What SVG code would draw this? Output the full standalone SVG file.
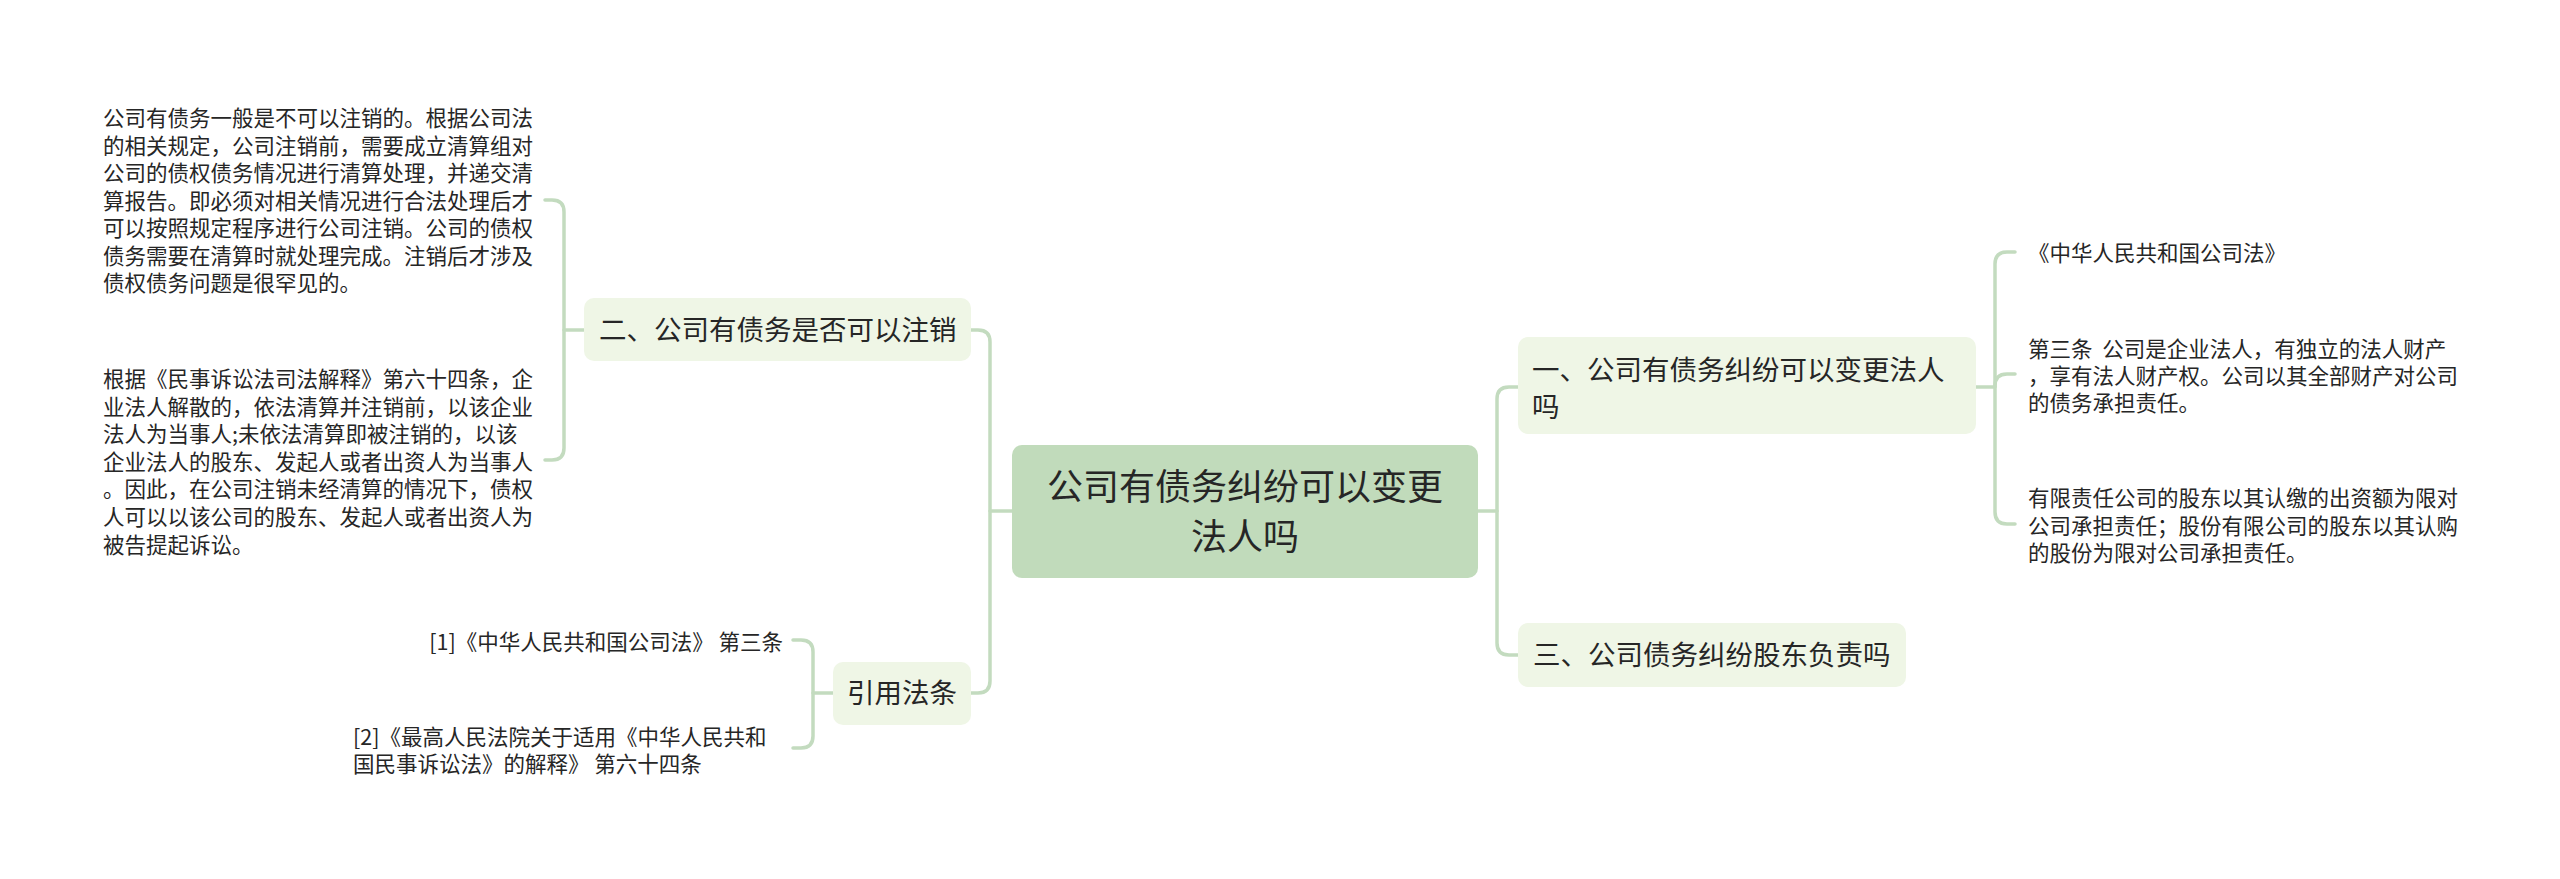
<svg xmlns="http://www.w3.org/2000/svg" width="2560" height="879" viewBox="0 0 2560 879">
<style>
text{font-family:"Noto Sans CJK SC","Noto Sans",sans-serif;fill:#262626}
.root{fill:#c1dbbb}
.n1{fill:#eff6e6}
.t0{font-size:36px}
.t1{font-size:27.5px}
.t2{font-size:21.5px}
.c{fill:none;stroke:#c3dbbf;stroke-width:3.5;stroke-linecap:round}
</style>
<rect width="2560" height="879" fill="#ffffff"/>
<g id="connectors">
<path class="c" d="M1012,511 H990"/>
<path class="c" d="M971,330 H978 Q990,330 990,342 V681 Q990,693 978,693 H971"/>
<path class="c" d="M1478,511 H1497"/>
<path class="c" d="M1518,387 H1509 Q1497,387 1497,399 V643 Q1497,655 1509,655 H1518"/>
<path class="c" d="M1976,387 H1995"/>
<path class="c" d="M2015,252 H2007 Q1995,252 1995,264 V512 Q1995,524 2007,524 H2015"/>
<path class="c" d="M1995,386 Q1995,374 2007,374 H2015"/>
<path class="c" d="M584,330 H564"/>
<path class="c" d="M545,200 H552 Q564,200 564,212 V448 Q564,460 552,460 H545"/>
<path class="c" d="M833,693 H813"/>
<path class="c" d="M793,640 H801 Q813,640 813,652 V736 Q813,748 801,748 H793"/>
</g>
<g id="root">
<rect class="root" x="1012" y="445" width="466" height="133" rx="10"/>
<text class="t0" text-anchor="middle"><tspan x="1245" y="500">公司有债务纠纷可以变更</tspan><tspan x="1245" y="550">法人吗</tspan></text>
</g>
<g id="n-zhuxiao">
<rect class="n1" x="584" y="298" width="387" height="63" rx="10"/>
<text class="t1" x="599" y="340">二、公司有债务是否可以注销</text>
</g>
<g id="n-yinyong">
<rect class="n1" x="833" y="662" width="138" height="63" rx="10"/>
<text class="t1" x="902" y="703" text-anchor="middle">引用法条</text>
</g>
<g id="n-biangeng">
<rect class="n1" x="1518" y="337" width="458" height="97" rx="10"/>
<text class="t1"><tspan x="1532" y="380">一、公司有债务纠纷可以变更法人</tspan><tspan x="1532" y="417">吗</tspan></text>
</g>
<g id="n-gudong">
<rect class="n1" x="1518" y="623" width="388" height="64" rx="10"/>
<text class="t1" x="1533" y="665">三、公司债务纠纷股东负责吗</text>
</g>
<g id="leaf-zhuxiao-1">
<text class="t2"><tspan x="103" y="126">公司有债务一般是不可以注销的。根据公司法</tspan><tspan x="103" y="154">的相关规定，公司注销前，需要成立清算组对</tspan><tspan x="103" y="181">公司的债权债务情况进行清算处理，并递交清</tspan><tspan x="103" y="209">算报告。即必须对相关情况进行合法处理后才</tspan><tspan x="103" y="236">可以按照规定程序进行公司注销。公司的债权</tspan><tspan x="103" y="264">债务需要在清算时就处理完成。注销后才涉及</tspan><tspan x="103" y="291">债权债务问题是很罕见的。</tspan></text>
</g>
<g id="leaf-zhuxiao-2">
<text class="t2"><tspan x="103" y="387">根据《民事诉讼法司法解释》第六十四条，企</tspan><tspan x="103" y="415">业法人解散的，依法清算并注销前，以该企业</tspan><tspan x="103" y="442">法人为当事人;未依法清算即被注销的，以该</tspan><tspan x="103" y="470">企业法人的股东、发起人或者出资人为当事人</tspan><tspan x="103" y="497">。因此，在公司注销未经清算的情况下，债权</tspan><tspan x="103" y="525">人可以以该公司的股东、发起人或者出资人为</tspan><tspan x="103" y="553">被告提起诉讼。</tspan></text>
</g>
<g id="leaf-ref-1">
<text class="t2" x="783" y="650" text-anchor="end">[1]《中华人民共和国公司法》 第三条</text>
</g>
<g id="leaf-ref-2">
<text class="t2"><tspan x="353" y="745">[2]《最高人民法院关于适用《中华人民共和</tspan><tspan x="353" y="772">国民事诉讼法》的解释》 第六十四条</tspan></text>
</g>
<g id="leaf-biangeng-1">
<text class="t2" x="2028" y="261">《中华人民共和国公司法》</text>
</g>
<g id="leaf-biangeng-2">
<text class="t2" xml:space="preserve"><tspan x="2028" y="357">第三条  公司是企业法人，有独立的法人财产</tspan><tspan x="2028" y="384">，享有法人财产权。公司以其全部财产对公司</tspan><tspan x="2028" y="411">的债务承担责任。</tspan></text>
</g>
<g id="leaf-biangeng-3">
<text class="t2"><tspan x="2028" y="506">有限责任公司的股东以其认缴的出资额为限对</tspan><tspan x="2028" y="534">公司承担责任；股份有限公司的股东以其认购</tspan><tspan x="2028" y="561">的股份为限对公司承担责任。</tspan></text>
</g>
</svg>
